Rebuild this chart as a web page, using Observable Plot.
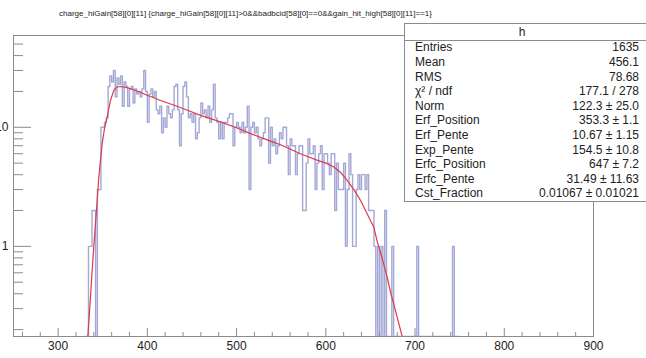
<!DOCTYPE html>
<html><head><meta charset="utf-8">
<script src="https://cdn.jsdelivr.net/npm/d3@7"></script>
<script src="https://cdn.jsdelivr.net/npm/@observablehq/plot@0.6"></script>
<style>
body{margin:0;background:#fff;}
#wrap{position:relative;width:646px;height:358px;overflow:hidden;font-family:"Liberation Sans",Arial,sans-serif;}
#wrap svg{position:absolute;left:0;top:0;}
</style></head><body><div id="wrap"></div>
<script>
// ---- data ----
const titleText = "charge_hiGain[58][0][11] {charge_hiGain[58][0][11]>0&&badbcid[58][0]==0&&gain_hit_high[58][0][11]==1}";
const binStart = 330;
const binWidth = 2;
const counts = [
 0,0,1,1,2,2,0,3,3,10,
 10,11,12,22,27,24,30,18,26,23,
 27,15,24,22,15,21,22,16,21,19,
 20,18,21,30,20,11,19,21,18,20,
 14,13,15,9,12,10,15,13,12,14,
 22,23,14,7,13,22,24,18,12,13,
 11,13,8,9,12,16,13,14,12,15,
 11,14,23,12,11,8,11,8,11,11,
 12,13,13,7,10,11,10,9,11,9,
 10,15,3,10,11,9,10,8,7,8,
 9,12,12,5,10,7,8,6,7,9,
 8,10,10,7,4,8,7,7,4,6,
 7,7,2,2,5,8,6,6,7,3,
 5,6,7,3,6,6,5,4,6,6,
 2,5,3,3,3,5,1,3,6,4,
 1,1,3,4,3,4,4,3,4,2,
 2,2,1,0,1,0,1,0,2,0,
 0,0,1,0,0
];
const sparseX = [702, 742];
const sparseN = [1, 1];
const histEnd = 750;

const fitX = [333.3,336,338,340,343,345.6,347.5,349.4,352,355,358.7,362.4,366,370,375,380,390,400,414.8,430,445,459.6,482,500,515.6,535,550,571.6,590,600,609,617,624,632,639,646,653.8,657.6,663,668.8,673,678,685.6];
const fitY = [0.175,0.35,0.6,1.0,2.0,3.8,5.3,7.3,9.8,12.2,16.8,20.4,21.8,22.0,21.7,21.2,20.0,18.6,16.8,15.3,13.9,12.6,11.1,9.9,8.85,7.8,7.1,6.0,5.3,5.0,4.64,4.15,3.58,2.95,2.43,1.9,1.45,1.1,0.8,0.55,0.4,0.29,0.175];

const xMajor = [300,400,500,600,700,800,900];
const xMinor = d3.range(260, 900, 20).filter(v => v % 100 !== 0);
const yMajor = [1, 10];
const yMinor = [0.2,0.3,0.4,0.5,0.6,0.7,0.8,0.9,2,3,4,5,6,7,8,9,20,30,40,50];

const statLabels = ["Entries","Mean","RMS","χ² / ndf","Norm","Erf_Position","Erf_Pente","Exp_Pente","Erfc_Position","Erfc_Pente","Cst_Fraction"];
const statValues = ["1635","456.1","78.68","177.1 / 278","122.3 ± 25.0","353.3 ± 1.1","10.67 ± 1.15","154.5 ± 10.8","647 ± 7.2","31.49 ± 11.63","0.01067 ± 0.01021"];

// ---- build ----
const W = 646, H = 358;
const mL = 13, mR = 53, mT = 35, mB = 22;
const frameW = W - mL - mR, frameH = H - mT - mB;
const yMin = 0.175, yMax = 59;

const bins = [];
for (let x0 = binStart, i = 0; x0 < histEnd; x0 += binWidth, i++) {
  let n = i < counts.length ? counts[i] : 0;
  const k = sparseX.indexOf(x0);
  if (k >= 0) n = sparseN[k];
  bins.push({x0, x1: x0 + binWidth, n});
}
const histPts = [];
for (const b of bins) {
  const v = Math.max(b.n, yMin);
  histPts.push({x: b.x0, y: v}, {x: b.x1, y: v});
}
const fit = fitX.map((x, i) => ({x, y: fitY[i]}));

const grey = "#8c8c8c";
const plot = Plot.plot({
  width: W, height: H,
  marginLeft: mL, marginRight: mR, marginTop: mT, marginBottom: mB,
  style: {fontFamily: "'Liberation Sans', Arial, sans-serif", fontSize: "12px", color: "#222", background: "transparent", overflow: "visible"},
  x: {domain: [250, 900], label: null},
  y: {type: "log", domain: [yMin, yMax], label: null},
  marks: [
    Plot.line(histPts, {x: "x", y: "y", stroke: "#a4a8d6", strokeWidth: 1.4, clip: true}),
    Plot.line(fit, {x: "x", y: "y", stroke: "#dc3a48", strokeWidth: 1.2, clip: true}),
    Plot.frame({stroke: grey}),
    Plot.ruleX(xMinor, {x: d => d, insetTop: frameH - 4, stroke: grey}),
    Plot.ruleX(xMajor, {x: d => d, insetTop: frameH - 8, stroke: grey}),
    Plot.ruleY(yMinor, {y: d => d, insetRight: frameW - 10, stroke: grey}),
    Plot.ruleY(yMajor, {y: d => d, insetRight: frameW - 18, stroke: grey}),
    Plot.axisX({ticks: xMajor, tickSize: 0, tickPadding: 5, label: null, tickFormat: d => String(d), fontSize: 12}),
    Plot.axisY({ticks: yMajor, tickSize: 0, tickPadding: 5, label: null, tickFormat: d => String(d), fontSize: 12})
  ]
});
const wrap = document.getElementById("wrap");
wrap.appendChild(plot);

// overlay: title and stats box
const ov = d3.select(wrap).append("svg").attr("width", W).attr("height", H)
  .style("font-family", "'Liberation Sans', Arial, sans-serif");
ov.append("text").attr("x", 59).attr("y", 15.5).attr("font-size", 8)
  .attr("textLength", 373).attr("lengthAdjust", "spacingAndGlyphs")
  .attr("fill", "#222").text(titleText);

const bx = 404.5, by = 23.5, bw = 260, bh = 178;
ov.append("rect").attr("x", bx).attr("y", by).attr("width", bw).attr("height", bh)
  .attr("fill", "#fff").attr("stroke", grey);
ov.append("line").attr("x1", bx).attr("x2", bx + bw).attr("y1", 40.5).attr("y2", 40.5).attr("stroke", grey);
ov.append("text").attr("x", 522).attr("y", 36).attr("text-anchor", "middle").attr("font-size", 12).attr("fill", "#222").text("h");
statLabels.forEach((lab, i) => {
  const yc = 47 + i * 14.6;
  ov.append("text").attr("x", 415).attr("y", yc + 4.3).attr("font-size", 12).attr("fill", "#222").text(lab);
  ov.append("text").attr("x", 639).attr("y", yc + 4.3).attr("font-size", 12).attr("text-anchor", "end").attr("fill", "#222").text(statValues[i]);
});
</script></body></html>
